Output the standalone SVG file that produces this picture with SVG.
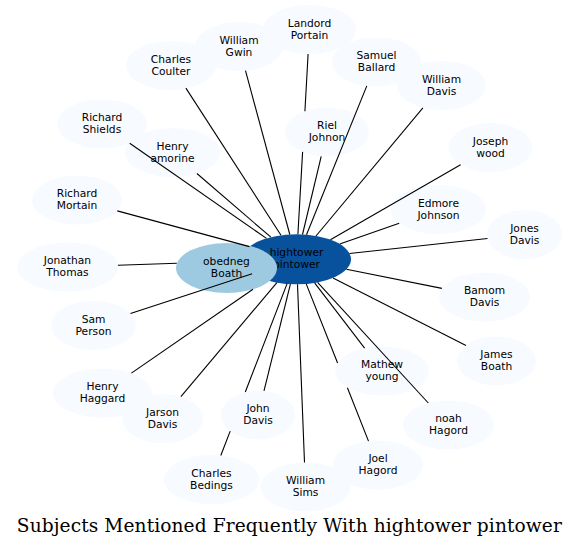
<svg xmlns="http://www.w3.org/2000/svg" width="579" height="548" viewBox="0 0 579 548">
<style>
.n ellipse{fill:#f7fbff;stroke:none}
.t{font-family:"DejaVu Sans","Liberation Sans",sans-serif;font-size:10.7px;fill:#000;text-anchor:middle}
.e path{fill:none;stroke:#000;stroke-width:1.1}
.title{font-family:"DejaVu Serif","Liberation Serif",serif;font-size:18.6px;fill:#000;text-anchor:middle}
</style>
<rect width="579" height="548" fill="#fff"/>
<g id="nodes">
<g id="n-charles-coulter" class="n"><ellipse cx="171" cy="65.5" rx="45" ry="24.5"/><text class="t"><tspan x="171" y="62.7">Charles</tspan><tspan x="171" y="74.7">Coulter</tspan></text></g>
<g id="n-william-gwin" class="n"><ellipse cx="239" cy="46.5" rx="44" ry="24.5"/><text class="t"><tspan x="239" y="43.7">William</tspan><tspan x="239" y="55.7">Gwin</tspan></text></g>
<g id="n-landord-portain" class="n"><ellipse cx="309.5" cy="29.5" rx="46.5" ry="24.5"/><text class="t"><tspan x="309.5" y="26.7">Landord</tspan><tspan x="309.5" y="38.7">Portain</tspan></text></g>
<g id="n-samuel-ballard" class="n"><ellipse cx="376.5" cy="62" rx="44.5" ry="24.5"/><text class="t"><tspan x="376.5" y="59.2">Samuel</tspan><tspan x="376.5" y="71.2">Ballard</tspan></text></g>
<g id="n-william-davis" class="n"><ellipse cx="441.5" cy="85.5" rx="44.5" ry="24.5"/><text class="t"><tspan x="441.5" y="82.7">William</tspan><tspan x="441.5" y="94.7">Davis</tspan></text></g>
<g id="n-riel-johnon" class="n"><ellipse cx="327" cy="132" rx="42" ry="24.5"/><text class="t"><tspan x="327" y="129.2">Riel</tspan><tspan x="327" y="141.2">Johnon</tspan></text></g>
<g id="n-joseph-wood" class="n"><ellipse cx="490.5" cy="147.5" rx="42" ry="24.5"/><text class="t"><tspan x="490.5" y="144.7">Joseph</tspan><tspan x="490.5" y="156.7">wood</tspan></text></g>
<g id="n-edmore-johnson" class="n"><ellipse cx="438.5" cy="209.5" rx="47.5" ry="24.5"/><text class="t"><tspan x="438.5" y="206.7">Edmore</tspan><tspan x="438.5" y="218.7">Johnson</tspan></text></g>
<g id="n-jones-davis" class="n"><ellipse cx="524.5" cy="234.5" rx="37.5" ry="24.5"/><text class="t"><tspan x="524.5" y="231.7">Jones</tspan><tspan x="524.5" y="243.7">Davis</tspan></text></g>
<g id="n-bamom-davis" class="n"><ellipse cx="484.5" cy="297" rx="45.5" ry="24.5"/><text class="t"><tspan x="484.5" y="294.2">Bamom</tspan><tspan x="484.5" y="306.2">Davis</tspan></text></g>
<g id="n-james-boath" class="n"><ellipse cx="496.5" cy="361" rx="39.5" ry="24.5"/><text class="t"><tspan x="496.5" y="358.2">James</tspan><tspan x="496.5" y="370.2">Boath</tspan></text></g>
<g id="n-noah-hagord" class="n"><ellipse cx="448.5" cy="425" rx="45.5" ry="24.5"/><text class="t"><tspan x="448.5" y="422.2">noah</tspan><tspan x="448.5" y="434.2">Hagord</tspan></text></g>
<g id="n-mathew-young" class="n"><ellipse cx="382" cy="371" rx="47" ry="24.5"/><text class="t"><tspan x="382" y="368.2">Mathew</tspan><tspan x="382" y="380.2">young</tspan></text></g>
<g id="n-joel-hagord" class="n"><ellipse cx="378" cy="465" rx="45" ry="24.5"/><text class="t"><tspan x="378" y="462.2">Joel</tspan><tspan x="378" y="474.2">Hagord</tspan></text></g>
<g id="n-william-sims" class="n"><ellipse cx="305.5" cy="487" rx="45" ry="24.5"/><text class="t"><tspan x="305.5" y="484.2">William</tspan><tspan x="305.5" y="496.2">Sims</tspan></text></g>
<g id="n-john-davis" class="n"><ellipse cx="258" cy="415" rx="37" ry="24.5"/><text class="t"><tspan x="258" y="412.2">John</tspan><tspan x="258" y="424.2">Davis</tspan></text></g>
<g id="n-charles-bedings" class="n"><ellipse cx="211.5" cy="479.5" rx="47.5" ry="24.5"/><text class="t"><tspan x="211.5" y="476.7">Charles</tspan><tspan x="211.5" y="488.7">Bedings</tspan></text></g>
<g id="n-jarson-davis" class="n"><ellipse cx="162.5" cy="418.5" rx="40.5" ry="24.5"/><text class="t"><tspan x="162.5" y="415.7">Jarson</tspan><tspan x="162.5" y="427.7">Davis</tspan></text></g>
<g id="n-henry-haggard" class="n"><ellipse cx="102.5" cy="393" rx="49.5" ry="24.5"/><text class="t"><tspan x="102.5" y="390.2">Henry</tspan><tspan x="102.5" y="402.2">Haggard</tspan></text></g>
<g id="n-sam-person" class="n"><ellipse cx="93.5" cy="325.5" rx="42.5" ry="24.5"/><text class="t"><tspan x="93.5" y="322.7">Sam</tspan><tspan x="93.5" y="334.7">Person</tspan></text></g>
<g id="n-jonathan-thomas" class="n"><ellipse cx="67.5" cy="267" rx="50.5" ry="24.5"/><text class="t"><tspan x="67.5" y="264.2">Jonathan</tspan><tspan x="67.5" y="276.2">Thomas</tspan></text></g>
<g id="n-richard-mortain" class="n"><ellipse cx="77" cy="200" rx="45" ry="24.5"/><text class="t"><tspan x="77" y="197.2">Richard</tspan><tspan x="77" y="209.2">Mortain</tspan></text></g>
<g id="n-richard-shields" class="n"><ellipse cx="102" cy="124" rx="45" ry="24.5"/><text class="t"><tspan x="102" y="121.2">Richard</tspan><tspan x="102" y="133.2">Shields</tspan></text></g>
<g id="n-henry-amorine" class="n"><ellipse cx="172.5" cy="152.5" rx="47.5" ry="24.5"/><text class="t"><tspan x="172.5" y="149.7">Henry</tspan><tspan x="172.5" y="161.7">amorine</tspan></text></g>
<g id="n-hightower-pintower"><ellipse cx="296.5" cy="259.3" rx="54.5" ry="25" fill="#08519c"/><text class="t"><tspan x="296.5" y="256.3">hightower</tspan><tspan x="296.5" y="268.3">pintower</tspan></text></g>
<g id="n-obedneg-boath"><ellipse cx="226.5" cy="268" rx="50.5" ry="25" fill="#9ecae1"/><text class="t"><tspan x="226.5" y="265">obedneg</tspan><tspan x="226.5" y="277">Boath</tspan></text></g>
</g>
<g id="edges" class="e">
<path d="M281,235.3L185.9,88.1"/>
<path d="M289.8,234.5L245.5,70.7"/>
<path d="M297.9,234.3L302.6,151.9M304.9,111.2L308.1,54"/>
<path d="M306.5,234.7L366.8,85.9"/>
<path d="M316,236L422.9,107.8"/>
<path d="M302.5,234.5L321.2,156.3"/>
<path d="M330.4,239.7L460.6,164.7"/>
<path d="M339.8,244.1L399.2,223.3"/>
<path d="M349.5,253.5L487.5,238.5"/>
<path d="M346.4,269.3L441.9,288.4"/>
<path d="M333,277.9L466,345.5"/>
<path d="M317.6,282.4L428.3,403"/>
<path d="M314.6,282.9L364.6,348.2"/>
<path d="M306.2,283.9L337.6,363M347.4,387.8L368.5,441.1"/>
<path d="M297.5,284.3L304.5,462.5"/>
<path d="M290.4,284.1L264,390.8"/>
<path d="M287,283.9L245.3,392M230.2,431.1L220.8,455.5"/>
<path d="M276.9,282.6L180.9,396.7"/>
<path d="M253,289.3L131.4,373.1"/>
<path d="M252.1,273.8L130.5,313.4"/>
<path d="M176.8,263.3L117.9,265.3"/>
<path d="M249.5,246.6L117.3,210.9"/>
<path d="M266.5,238.4L129.7,143.3"/>
<path d="M270.9,237.2L196.9,173.5"/>
</g>
<text class="title" x="289.3" y="531.5" textLength="545" lengthAdjust="spacing">Subjects Mentioned Frequently With hightower pintower</text>
</svg>
